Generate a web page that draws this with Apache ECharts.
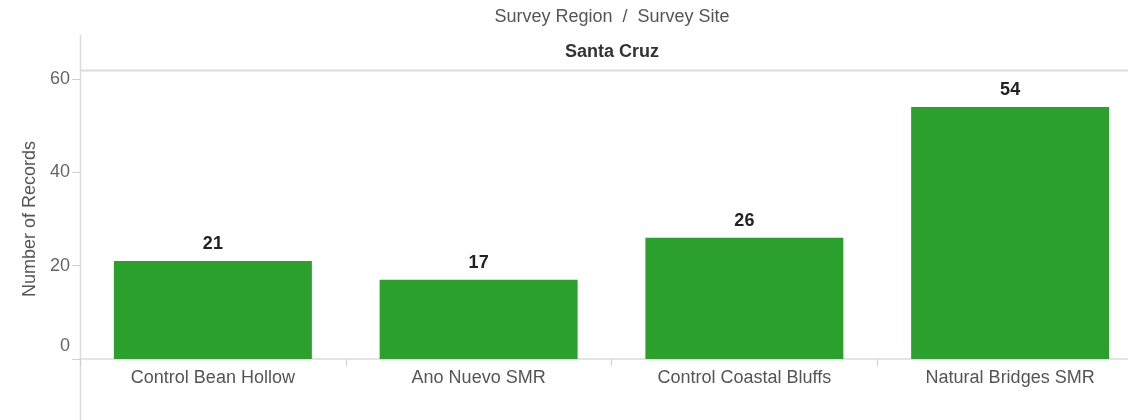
<!DOCTYPE html>
<html>
<head>
<meta charset="utf-8">
<script src="https://cdn.jsdelivr.net/npm/echarts@6/dist/echarts.min.js"></script>
<style>
  html, body { margin: 0; padding: 0; background: #fff; overflow: hidden; }
  /* the plot runs a little past the right edge, cropped like the reference */
  #chart { width: 1143px; height: 420px; }
</style>
</head>
<body>
<div id="chart"></div>
<script>
// survey sites in Santa Cruz region
const sites = ["Control Bean Hollow", "Ano Nuevo SMR", "Control Coastal Bluffs", "Natural Bridges SMR"];
const records = [21, 17, 26, 54];
const yTicks = [0, 20, 40, 60];

const chart = echarts.init(document.getElementById("chart"));
const font = "Arial, 'Liberation Sans', sans-serif";
const fs = 18;

chart.setOption({
  animation: false,
  textStyle: { fontFamily: font },
  grid: { left: 80, right: 0, top: 79, bottom: 61 },
  graphic: [
    // header titles
    { type: "text", x: 612, y: 17,
      style: { text: "Survey Region  /  Survey Site", fill: "#555", font: fs + "px " + font,
               align: "center", verticalAlign: "middle" } },
    { type: "text", x: 612, y: 52,
      style: { text: "Santa Cruz", fill: "#333", font: "bold " + fs + "px " + font,
               align: "center", verticalAlign: "middle" } },
    // header divider and left axis rule
    { type: "line", shape: { x1: 80, y1: 70.5, x2: 1143, y2: 70.5 },
      style: { stroke: "#dcdcdc", lineWidth: 2 } },
    { type: "line", shape: { x1: 80.5, y1: 35, x2: 80.5, y2: 420 },
      style: { stroke: "#dcdcdc", lineWidth: 1.5 } }
  ],
  xAxis: {
    type: "category",
    data: sites,
    axisLine: { lineStyle: { color: "#dcdcdc", width: 1.5 } },
    axisTick: { show: true, length: 7, interval: 0, lineStyle: { color: "#d0d0d0" } },
    axisLabel: { color: "#555", fontSize: fs, margin: 10, interval: 0 }
  },
  yAxis: {
    type: "value",
    min: yTicks[0],
    max: yTicks[yTicks.length - 1],
    interval: 20,
    name: "Number of Records",
    nameLocation: "middle",
    nameGap: 38,
    nameTextStyle: { color: "#555", fontSize: fs },
    axisLine: { show: false },
    axisTick: { show: true, length: 8, lineStyle: { color: "#d0d0d0" } },
    splitLine: { show: false },
    axisLabel: {
      color: "#666",
      fontSize: fs,
      margin: 10,
      formatter: function (v) { return v === 0 ? "{lo|0}" : String(v); },
      rich: { lo: { color: "#666", fontSize: fs, padding: [0, 0, 26, 0] } }
    }
  },
  series: [{
    type: "bar",
    data: records,
    barWidth: "74.5%",
    itemStyle: { color: "#2ca02c" },
    label: {
      show: true,
      position: "top",
      distance: 8,
      color: "#222",
      fontWeight: "bold",
      fontSize: fs
    }
  }]
});
</script>
</body>
</html>
